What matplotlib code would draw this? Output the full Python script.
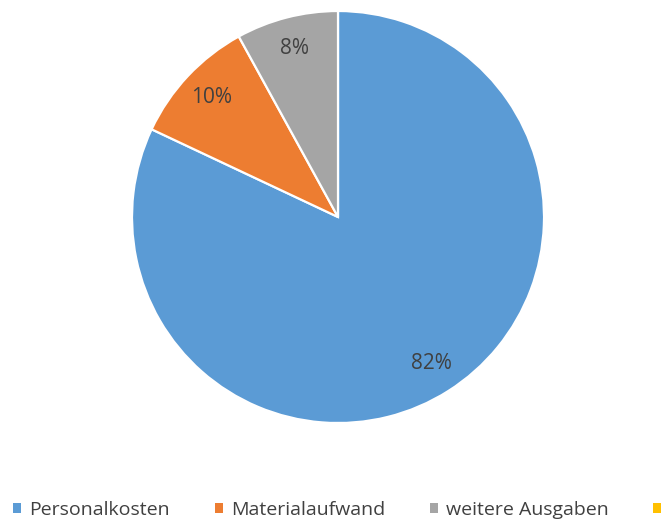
import matplotlib
matplotlib.use('Agg')
import matplotlib.pyplot as plt
from matplotlib.patches import Patch

# ==[0] Data
categories = ['Personalkosten', 'Materialaufwand', 'weitere Ausgaben', '']
values = [82, 10, 8, 0]
colors = ['#5B9BD5', '#ED7D31', '#A5A5A5', '#FFC000']

plt.rcParams['font.family'] = ['Open Sans', 'DejaVu Sans']

fig = plt.figure(figsize=(6.64, 5.24), dpi=100)
ax = fig.add_axes([0.1988, 0.1927, 0.6205, 0.7863])

# ==[1] Pie, clockwise from 12 o'clock like Excel
shown = [(v, c) for v, c in zip(values, colors) if v > 0]
wedges, _, autotexts = ax.pie([v for v, _ in shown], colors=[c for _, c in shown],
                              startangle=90, counterclock=False, radius=1,
                              autopct='%1.0f%%', pctdistance=0.845,
                              wedgeprops=dict(edgecolor='white', linewidth=1.6),
                              textprops=dict(color='#404040', fontsize=15))
ax.set_xlim(-1, 1)
ax.set_ylim(-1, 1)
ax.set_aspect('equal')
ax.axis('off')

# ==[2] Legend along the bottom, last entry runs off the edge
handles = [Patch(facecolor=c, edgecolor='none') for c in colors]
fig.legend(handles, categories, loc='center left', bbox_to_anchor=(0.008, 0.026),
           ncol=4, frameon=False, fontsize=14, labelcolor='#404040',
           handlelength=0.41, handleheight=0.41, handletextpad=0.42,
           columnspacing=2.3, borderaxespad=0)

fig.savefig('out.png', dpi=100)
